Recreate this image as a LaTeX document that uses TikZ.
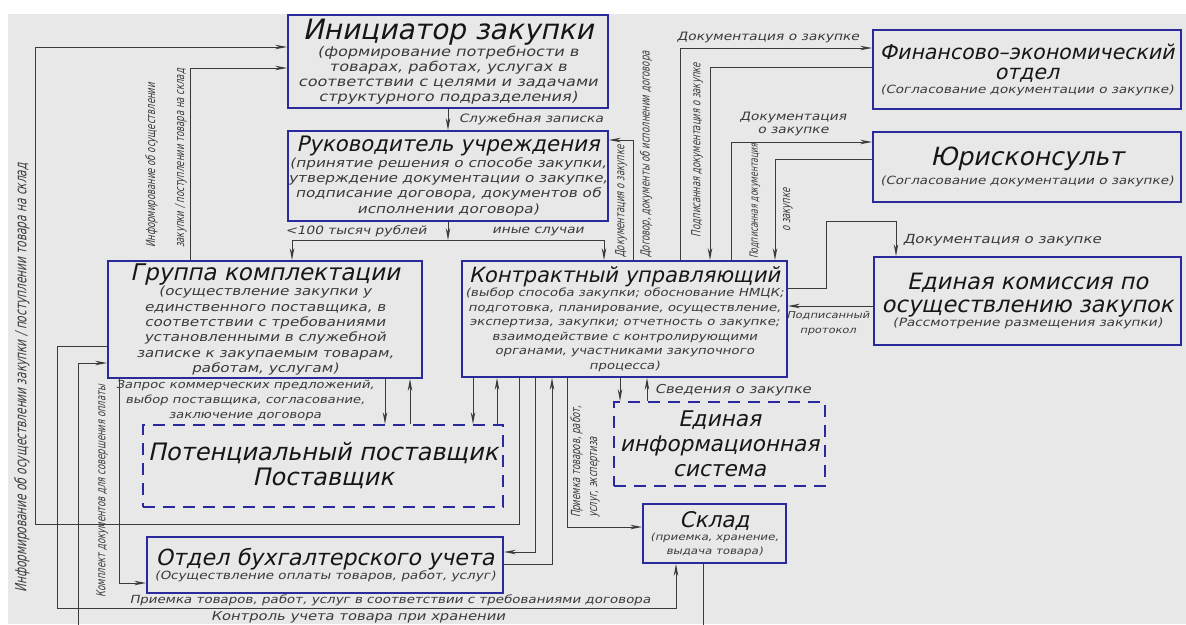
\documentclass[tikz,border=0pt]{standalone}
\usepackage{fontspec}
\usetikzlibrary{arrows.meta}
\newfontfamily\gf{DejaVu Sans}[FakeStretch=1.2,FakeSlant=0.22]
\newfontfamily\gft{DejaVu Sans}[FakeStretch=1.0,FakeSlant=0.22]
\newfontfamily\gfc{DejaVu Sans}[FakeStretch=0.68,FakeSlant=0.22]
\newcommand\ttl[2]{{\gft\fontsize{#1}{#1}\selectfont\color{ttlc}#2}}
\definecolor{bgc}{HTML}{E8E8E8}
\definecolor{boxc}{HTML}{2A2A9C}
\definecolor{linec}{HTML}{3A3A3A}
\definecolor{ttlc}{HTML}{161616}
\definecolor{bodyc}{HTML}{3A3A3A}
\tikzset{
  box/.style={draw=boxc, line width=1.8pt, align=center, inner sep=0pt, text=bodyc},
  dbox/.style={box, dash pattern=on 12pt off 8pt},
  conn/.style={draw=linec, line width=1pt},
  arr/.style={conn, -{Stealth[length=12pt,width=4.5pt]}},
  lbl/.style={font=\gf\fontsize{11.5}{13.5}\selectfont, text=bodyc, inner sep=0pt, align=center},
  vlbl/.style={font=\gfc\fontsize{12.5}{15}\selectfont, text=bodyc, inner sep=0pt, rotate=90, align=left},
}
\begin{document}
\begin{tikzpicture}[x=1pt,y=-1pt]
\useasboundingbox (0,0) rectangle (1186,624);
\clip (0,0) rectangle (1186,624);
\fill[white] (0,0) rectangle (1186,624);
\fill[bgc] (8,14) rectangle (1186,624);

% boxes
\node[box, minimum width=320pt, minimum height=93pt, font=\gf\fontsize{13.4}{15}\selectfont] (init) at (448,61.5)
  {\ttl{28}{Инициатор закупки}\\(формирование потребности в\\товарах, работах, услугах в\\соответствии с целями и задачами\\структурного подразделения)};
\node[box, minimum width=320pt, minimum height=90pt, font=\gf\fontsize{12.7}{15.3}\selectfont] (head) at (448,176)
  {\ttl{21.3}{Руководитель учреждения}\\(принятие решения о способе закупки,\\утверждение документации о закупке,\\подписание договора, документов об\\исполнении договора)};
\node[box, minimum width=314pt, minimum height=117pt, font=\gf\fontsize{12.6}{15.3}\selectfont] (grp) at (265,319.5)
  {\ttl{23}{Группа комплектации}\\(осуществление закупки у\\единственного поставщика, в\\соответствии с требованиями\\установленными в служебной\\записке к закупаемым товарам,\\работам, услугам)};
\node[box, minimum width=325pt, minimum height=116pt, font=\gf\fontsize{11.1}{14.5}\selectfont] (cm) at (624.5,319)
  {\ttl{21}{Контрактный управляющий}\\(выбор способа закупки; обоснование НМЦК;\\подготовка, планирование, осуществление,\\экспертиза, закупки; отчетность о закупке;\\взаимодействие с контролирующими\\органами, участниками закупочного\\процесса)};
\node[box, minimum width=308pt, minimum height=79pt, font=\gf\fontsize{11.3}{14}\selectfont] (fin) at (1027,69.5)
  {\ttl{20.5}{Финансово–экономический}\\[6pt]\ttl{20.5}{отдел}\\(Согласование документации о закупке)};
\node[box, minimum width=308pt, minimum height=70pt, font=\gf\fontsize{11.3}{14}\selectfont] (jur) at (1027,167)
  {\ttl{25}{Юрисконсульт}\\[5pt](Согласование документации о закупке)};
\node[box, minimum width=307pt, minimum height=88pt, font=\gf\fontsize{11.4}{14}\selectfont] (com) at (1027.5,301)
  {\ttl{22.5}{Единая комиссия по}\\[7pt]\ttl{22.5}{осуществлению закупок}\\(Рассмотрение размещения закупки)};
\node[dbox, minimum width=360pt, minimum height=82pt, font=\gft\fontsize{24}{25}\selectfont, text=ttlc] (pot) at (323,466)
  {Потенциальный поставщик\\Поставщик};
\node[dbox, minimum width=211pt, minimum height=84pt, font=\gft\fontsize{21.6}{25}\selectfont, text=ttlc] (eis) at (719.5,444)
  {Единая\\информационная\\система};
\node[box, minimum width=143pt, minimum height=59pt, font=\gf\fontsize{9.8}{13.5}\selectfont] (sklad) at (714.5,533.5)
  {\ttl{21.6}{Склад}\\(приемка, хранение,\\выдача товара)};
\node[box, minimum width=356pt, minimum height=56pt, font=\gf\fontsize{11.3}{14}\selectfont] (buh) at (325,565)
  {\ttl{22.2}{Отдел бухгалтерского учета}\\(Осуществление оплаты товаров, работ, услуг)};

% connectors
\coordinate (br) at (448,240);
\draw[arr] (init) -- (head);
\draw[arr] (head) -- (br);
\draw[arr] (br) -| (grp.north -| 292,0);
\draw[arr] (br) -| (cm.north -| 604,0);
\draw[arr] (cm.south -| 519,0) -- (519,524) -- (35,524) -- (35,47) -- (init.west |- 0,47);
\draw[arr] (grp.north -| 190,0) -- (190,68) -- (init.west |- 0,68);
\draw[arr] (grp.west |- 0,346) -- (57,346) -- (57,608) -- (676,608) -- (sklad.south -| 676,0);
\draw[arr] (sklad.south -| 703,0) -- (703,640) -- (78,640) -- (78,363) -- (grp.west |- 0,363);
\draw[arr] (grp.south -| 119,0) -- (119,583) -- (buh.west |- 0,583);
\draw[arr] (grp.south -| 385,0) -- (pot.north -| 385,0);
\draw[arr] (pot.north -| 410,0) -- (grp.south -| 410,0);
\draw[arr] (cm.south -| 473,0) -- (pot.north -| 473,0);
\draw[arr] (pot.north -| 497,0) -- (cm.south -| 497,0);
\draw[arr] (cm.south -| 535,0) -- (535,552) -- (buh.east |- 0,552);
\draw[arr] (buh.east |- 0,564) -- (552,564) -- (cm.south -| 552,0);
\draw[arr] (cm.south -| 567,0) -- (567,527) -- (sklad.west |- 0,527);
\draw[arr] (cm.south -| 620,0) -- (eis.north -| 620,0);
\draw[arr] (eis.north -| 647,0) -- (cm.south -| 647,0);
\draw[arr] (cm.north -| 633,0) -- (633,140) -- (head.east |- 0,140);
\draw[arr] (cm.north -| 680,0) -- (680,48) -- (fin.west |- 0,48);
\draw[arr] (fin.west |- 0,67) -- (710,67) -- (cm.north -| 710,0);
\draw[arr] (cm.north -| 731,0) -- (731,142) -- (jur.west |- 0,142);
\draw[arr] (jur.west |- 0,159) -- (775,159) -- (cm.north -| 775,0);
\draw[arr] (cm.east |- 0,288) -- (826,288) -- (826,221) -- (896,221) -- (com.north -| 896,0);
\draw[arr] (com.west |- 0,306) -- (cm.east |- 0,306);

% horizontal labels
\node[lbl] (l1) at (531,119) {Служебная записка};
\node[lbl] (l2) at (356,231) {<100 тысяч рублей};
\node[lbl] (l3) at (538,231) {иные случаи};
\node[lbl] (l4) at (768,38) {Документация о закупке};
\node[lbl] (l5) at (793,124) {Документация\\о закупке};
\node[lbl, font=\gf\fontsize{12.5}{14}\selectfont] (l6) at (1002,240) {Документация о закупке};
\node[lbl, font=\gf\fontsize{9.5}{15}\selectfont] (l7) at (828,323) {Подписанный\\протокол};
\node[lbl, font=\gf\fontsize{11}{15}\selectfont] (l8) at (245,400) {Запрос коммерческих предложений,\\выбор поставщика, согласование,\\заключение договора};
\node[lbl, font=\gf\fontsize{12.3}{14}\selectfont] (l9) at (733,390) {Сведения о закупке};
\node[lbl, font=\gf\fontsize{11.2}{14}\selectfont] (l10) at (390,600) {Приемка товаров, работ, услуг в соответствии с требованиями договора};
\node[lbl, font=\gf\fontsize{12.3}{14}\selectfont] (l11) at (358,617) {Контроль учета товара при хранении};

% vertical labels
\node[vlbl, font=\gfc\fontsize{15.5}{17}\selectfont] (v1) at (22,378) {Информирование об осуществлении закупки / поступлении товара на склад};
\node[vlbl, anchor=west, font=\gfc\fontsize{12.5}{29}\selectfont] (v2) at (166,248) {Информирование об осуществлении\\закупки / поступлении товара на склад};
\node[vlbl] (v3) at (102,491) {Комплект документов для совершения оплаты};
\node[vlbl, anchor=west] (v4) at (621,258) {Документация о закупке};
\node[vlbl, anchor=west] (v5) at (646,258) {Договор, документы об исполнении договора};
\node[vlbl] (v6) at (697,150) {Подписанная документация о закупке};
\node[vlbl, anchor=west, font=\gfc\fontsize{11.3}{15}\selectfont] (v7) at (755,259) {Подписанная документация};
\node[vlbl] (v8) at (788,210) {о закупке};
\node[vlbl, anchor=west, font=\gfc\fontsize{12.5}{17}\selectfont] (v9) at (585,518) {Приемка товаров, работ,\\услуг, экспертиза};
\end{tikzpicture}
\end{document}
